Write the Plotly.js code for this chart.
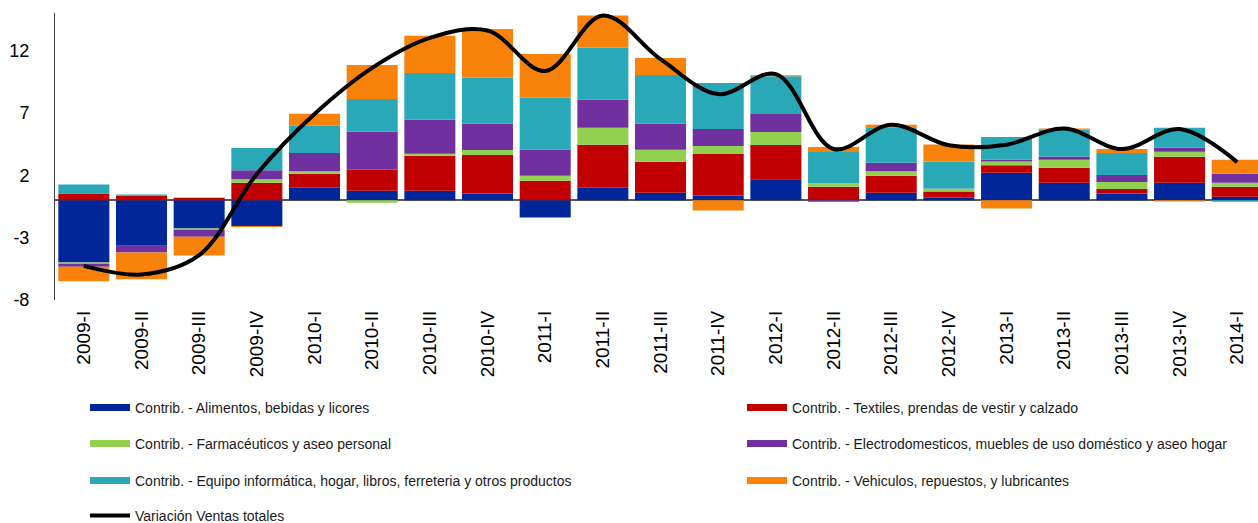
<!DOCTYPE html>
<html>
<head>
<meta charset="utf-8">
<script src="https://cdn.plot.ly/plotly-3.0.1.min.js"></script>
<style>html,body{margin:0;padding:0;background:#fff;}#chart{width:1258px;height:523px;}</style>
</head>
<body>
<div id="chart"></div>
<script>
const categories = ['2009-I','2009-II','2009-III','2009-IV','2010-I','2010-II','2010-III','2010-IV','2011-I','2011-II','2011-III','2011-IV','2012-I','2012-II','2012-III','2012-IV','2013-I','2013-II','2013-III','2013-IV','2014-I'];

const alimentos   = [-5.0, -3.66, -2.27, -2.06, 0.99, 0.75, 0.75, 0.53, -1.39, 0.99, 0.59, 0.37, 1.68, 0.05, 0.59, 0.19, 2.19, 1.39, 0.53, 1.39, 0.27];
const textiles    = [0.53, 0.35, 0.19, 1.39, 1.12, 1.68, 2.81, 3.10, 1.55, 3.45, 2.49, 3.34, 2.75, 1.02, 1.36, 0.51, 0.61, 1.20, 0.37, 2.09, 0.80];
const farmaceuticos = [-0.10, 0, -0.10, 0.29, 0.21, -0.21, 0.16, 0.40, 0.40, 1.36, 0.96, 0.64, 1.04, 0.29, 0.37, 0.21, 0.29, 0.64, 0.56, 0.40, 0.32];
const electro     = [-0.24, -0.53, -0.56, 0.72, 1.47, 3.05, 2.73, 2.09, 2.09, 2.25, 2.09, 1.36, 1.44, -0.13, 0.67, 0.02, 0.16, 0.27, 0.56, 0.32, 0.72];
const equipo      = [0.72, 0.10, 0, 1.79, 2.17, 2.62, 3.74, 3.69, 4.17, 4.17, 3.90, 3.69, 3.02, 2.51, 2.86, 2.17, 1.82, 2.14, 1.76, 1.60, -0.13];
const vehiculos   = [-1.15, -2.14, -1.50, -0.08, 0.96, 2.73, 2.99, 3.90, 3.50, 2.57, 1.36, -0.83, 0.08, 0.40, 0.19, 1.36, -0.67, 0.11, 0.32, -0.11, 1.12];
const variacion   = [-5.27, -5.95, -4.40, 2.10, 6.90, 10.60, 13.00, 13.60, 10.35, 14.80, 11.30, 8.50, 10.10, 4.10, 6.05, 4.40, 4.45, 5.75, 4.10, 5.70, 3.05];

const yTickVals   = [-8, -3, 2, 7, 12];
const yTickLabels = ['-8', '-3', '2', '7', '12'];

const seriesNames = [
  'Contrib. - Alimentos, bebidas y licores',
  'Contrib. - Textiles, prendas de vestir y calzado',
  'Contrib. - Farmacéuticos y aseo personal',
  'Contrib. - Electrodomesticos, muebles de uso doméstico y aseo hogar',
  'Contrib. - Equipo informática, hogar, libros, ferreteria y otros productos',
  'Contrib. - Vehiculos, repuestos, y lubricantes'
];
const lineName = 'Variación Ventas totales';
const seriesValues = [alimentos, textiles, farmaceuticos, electro, equipo, vehiculos];
const colors = ['#002699', '#C00000', '#92D050', '#7030A0', '#29A8B8', '#F8820A'];

const traces = [];
seriesValues.forEach((vals, i) => {
  traces.push({
    type: 'bar', x: categories, y: vals, name: seriesNames[i],
    marker: {color: colors[i], line: {width: 0}},
    showlegend: false, hoverinfo: 'x+y+name'
  });
});
traces.push({
  type: 'scatter', mode: 'lines', x: categories, y: variacion, name: lineName,
  line: {color: '#000000', width: 4, shape: 'spline', smoothing: 1},
  showlegend: false
});
// legend entries (one legend per entry, placed in a 2-column grid)
const legendKeys = ['legend', 'legend2', 'legend3', 'legend4', 'legend5', 'legend6', 'legend7'];
seriesValues.forEach((vals, i) => {
  traces.push({
    type: 'scatter', mode: 'lines', x: [null], y: [null], name: seriesNames[i],
    line: {color: colors[i], width: 7}, legend: legendKeys[i], showlegend: true, hoverinfo: 'skip'
  });
});
traces.push({
  type: 'scatter', mode: 'lines', x: [null], y: [null], name: lineName,
  line: {color: '#000000', width: 4}, legend: legendKeys[6], showlegend: true, hoverinfo: 'skip'
});

const L = 55, T = 13, B = 223, W = 1258, H = 523;
const plotW = W - L, plotH = H - T - B;
function px2x(px){ return (px - L) / plotW; }
function py2y(py){ return (T + plotH - py) / plotH; }

function mkLegend(pxLeft, py){
  return {
    orientation: 'v', x: px2x(pxLeft), xanchor: 'left', y: py2y(py), yanchor: 'middle',
    font: {family: 'Liberation Sans, Arial, sans-serif', size: 14, color: '#1a1a1a'},
    bgcolor: 'rgba(0,0,0,0)', borderwidth: 0,
    itemwidth: 40, itemclick: false, itemdoubleclick: false
  };
}

const col1 = 85, col2 = 742;
const rows = [408, 444, 481, 516];

const layout = {
  width: W, height: H,
  margin: {l: L, r: 0, t: T, b: B, autoexpand: false},
  paper_bgcolor: '#fff', plot_bgcolor: '#fff',
  barmode: 'relative', bargap: 0.115,
  font: {family: 'Liberation Sans, Arial, sans-serif', color: '#000'},
  xaxis: {
    type: 'category', range: [-0.5, 20.36], tickangle: -90,
    tickfont: {size: 19, color: '#000'}, showgrid: false, showline: false, zeroline: false,
    ticks: '', ticklabelstandoff: 6, fixedrange: true
  },
  yaxis: {
    range: [-8, 15], tickmode: 'array', tickvals: yTickVals, ticktext: yTickLabels,
    tickfont: {size: 18, color: '#000'}, showgrid: false,
    showline: true, linecolor: '#404040', linewidth: 1,
    zeroline: true, zerolinecolor: '#595959', zerolinewidth: 1.5,
    ticks: '', ticklabelstandoff: 21, fixedrange: true
  },
  legend:  mkLegend(col1, rows[0]),
  legend2: mkLegend(col2, rows[0]),
  legend3: mkLegend(col1, rows[1]),
  legend4: mkLegend(col2, rows[1]),
  legend5: mkLegend(col1, rows[2]),
  legend6: mkLegend(col2, rows[2]),
  legend7: mkLegend(col1, rows[3]),
  showlegend: true
};

Plotly.newPlot('chart', traces, layout, {displayModeBar: false, staticPlot: true});
</script>
</body>
</html>
